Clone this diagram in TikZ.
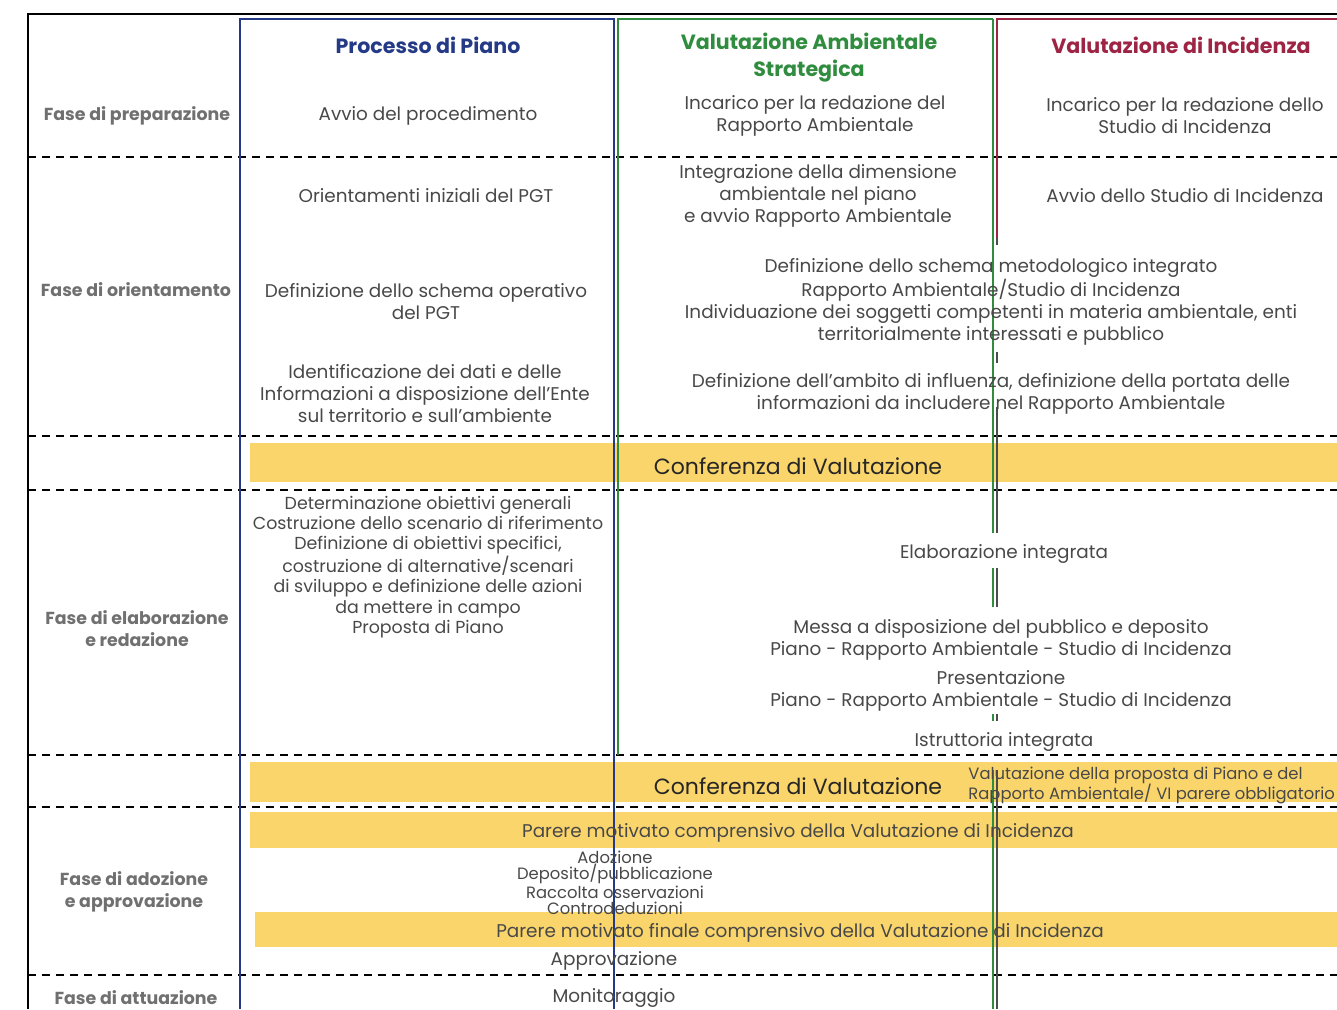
\documentclass[tikz,border=0pt]{standalone}
\usepackage{fontspec}
\setmainfont{Poppins}
\usetikzlibrary{positioning}

\definecolor{pianoblu}{RGB}{36,58,135}
\definecolor{vasverde}{RGB}{48,140,62}
\definecolor{vincrosso}{RGB}{158,36,68}
\definecolor{giallo}{RGB}{250,213,108}
\definecolor{testo}{RGB}{72,72,72}
\definecolor{fasegrigio}{RGB}{112,112,112}

\begin{document}
\begin{tikzpicture}[x=0.5pt,y=-0.5pt,line cap=butt,
  txt/.style={align=center,text=testo,inner sep=0pt,yshift=-1.5pt,font=\fontsize{9.2}{11}\selectfont},
  fitto/.style={align=center,text=testo,inner sep=0pt,yshift=-1.5pt,font=\fontsize{8.7}{10.15}\selectfont},
  stretto/.style={align=center,text=testo,inner sep=0pt,yshift=-1.5pt,font=\fontsize{8.2}{8.2}\selectfont},
  piccolo/.style={align=left,text=testo,inner sep=0pt,yshift=-1.5pt,font=\fontsize{8.2}{10}\selectfont},
  fase/.style={align=center,text=fasegrigio,inner sep=0pt,yshift=-1.5pt,font=\bfseries\fontsize{8.7}{11}\selectfont},
  titolo/.style={align=center,inner sep=0pt,yshift=-1pt,font=\bfseries\fontsize{10.3}{13.5}\selectfont},
  conf/.style={text=black!85,inner sep=0pt,yshift=-1.5pt,font=\fontsize{11}{13}\selectfont},
  banda/.style={fill=giallo,draw=none},
  riga/.style={dash pattern=on 4.2pt off 2.8pt,line width=1.2pt},
  bordo/.style={line width=1pt}]
\useasboundingbox (0,0) rectangle (1337,1009);

% bande gialle
\fill[banda] (250,443) rectangle (1337,482);
\fill[banda] (250,762) rectangle (1337,802);
\fill[banda] (250,812) rectangle (1337,848);
\fill[banda] (255,912) rectangle (1337,947);

% righe tratteggiate tra le fasi
\foreach \y in {157,436,490,755,807,975}
  \draw[riga] (28,\y) -- (1337,\y);

% cornice e colonne
\draw[bordo,black] (28,1009) -- (28,14) -- (1337,14);
\draw[bordo,pianoblu] (240,1009) -- (240,19) -- (614,19) -- (614,1009);
\draw[bordo,vasverde] (618,755) -- (618,19) -- (993,19);
\draw[bordo,vincrosso] (1337,19) -- (997,19) -- (997,240);
\foreach \a/\b in {19/533,568/607,714/721,770/1009}
  \draw[bordo,vasverde] (993,\a) -- (993,\b);
\foreach \a/\b in {238/245,352/363,407/533,568/607,714/721,770/1009}
  \draw[bordo,black!70] (997,\a) -- (997,\b);

% intestazioni
\node[titolo,text=pianoblu] (hPiano) at (428,43) {Processo di Piano};
\node[titolo,text=vasverde] (hVas) at (809,56) {Valutazione Ambientale\\Strategica};
\node[titolo,text=vincrosso] (hVinc) at (1181,43) {Valutazione di Incidenza};

% fasi
\node[fase] (fPrep) at (137,113) {Fase di preparazione};
\node[fase] (fOrient) at (136,287) {Fase di orientamento};
\node[fase] (fElab) at (137,626) {Fase di elaborazione\\e redazione};
\node[fase] (fAdoz) at (134,889) {Fase di adozione\\e approvazione};
\node[fase] (fAttu) at (136,995) {Fase di attuazione};

% preparazione
\node[txt] (pAvvio) at (428,113) {Avvio del procedimento};
\node[txt] (vIncarico) at (815,113) {Incarico per la redazione del\\Rapporto Ambientale};
\node[txt] (iIncarico) at (1185,113) {Incarico per la redazione dello\\Studio di Incidenza};

% orientamento
\node[txt] (pOrient) at (426,193) {Orientamenti iniziali del PGT};
\node[txt] (vIntegr) at (818,193) {Integrazione della dimensione\\ambientale nel piano\\e avvio Rapporto Ambientale};
\node[txt] (iAvvio) at (1185,193) {Avvio dello Studio di Incidenza};
\node[txt] (pSchema) at (426,299) {Definizione dello schema operativo\\del PGT};
\node[txt] (mSchema) at (991,299) {Definizione dello schema metodologico integrato\\Rapporto Ambientale/Studio di Incidenza\\Individuazione dei soggetti competenti in materia ambientale, enti\\territorialmente interessati e pubblico};
\node[txt] (pDati) at (425,391) {Identificazione dei dati e delle\\Informazioni a disposizione dell'Ente\\sul territorio e sull'ambiente};
\node[txt] (mAmbito) at (991,391) {Definizione dell'ambito di influenza, definizione della portata delle\\informazioni da includere nel Rapporto Ambientale};

\node[conf] (conf1) at (798,463) {Conferenza di Valutazione};

% elaborazione e redazione
\node[fitto] (pElab) at (428,564) {Determinazione obiettivi generali\\Costruzione dello scenario di riferimento\\Definizione di obiettivi specifici,\\costruzione di alternative/scenari\\di sviluppo e definizione delle azioni\\da mettere in campo\\Proposta di Piano};
\node[txt] (mElab) at (1004,551) {Elaborazione integrata};
\node[txt] (mMessa) at (1001,637) {Messa a disposizione del pubblico e deposito\\Piano - Rapporto Ambientale - Studio di Incidenza};
\node[txt] (mPres) at (1001,688) {Presentazione\\Piano - Rapporto Ambientale - Studio di Incidenza};
\node[txt] (mIstr) at (1004,739) {Istruttoria integrata};

\node[conf] (conf2) at (798,783) {Conferenza di Valutazione};
\node[piccolo,anchor=west] (vProp) at (968,782) {Valutazione della proposta di Piano e del\\Rapporto Ambientale/ VI parere obbligatorio};

% adozione e approvazione
\node[txt] (parere1) at (798,830) {Parere motivato comprensivo della Valutazione di Incidenza};
\node[stretto] (pAdoz) at (615,880) {Adozione\\Deposito/pubblicazione\\Raccolta osservazioni\\Controdeduzioni};
\node[txt] (parere2) at (800,930) {Parere motivato finale comprensivo della Valutazione di Incidenza};
\node[txt] (pAppr) at (614,958) {Approvazione};

% attuazione
\node[txt] (pMonit) at (614,995) {Monitoraggio};

\end{tikzpicture}
\end{document}
